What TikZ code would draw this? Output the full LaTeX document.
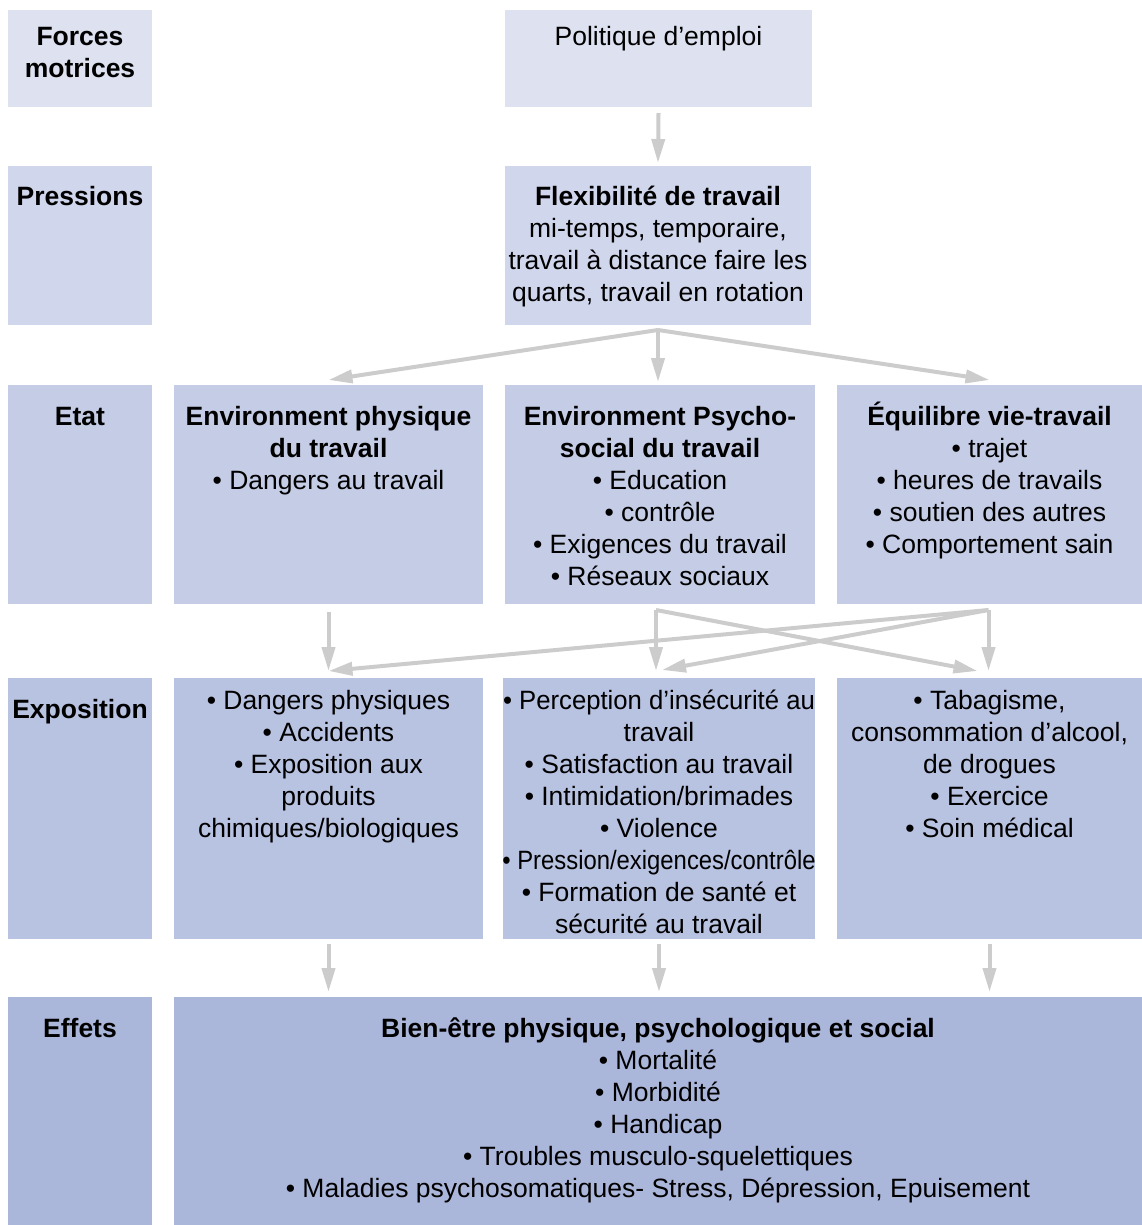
\documentclass[tikz,border=0pt]{standalone}
\usepackage{fontspec}
\setmainfont{Liberation Sans}
\usepackage{graphicx}
\usetikzlibrary{arrows.meta, positioning}

\definecolor{rowone}{RGB}{221,225,240}
\definecolor{rowtwo}{RGB}{208,214,236}
\definecolor{rowthree}{RGB}{196,204,230}
\definecolor{rowfour}{RGB}{184,194,225}
\definecolor{rowfive}{RGB}{170,182,218}
\definecolor{arrowgray}{RGB}{204,204,204}

% fixed height of the first text line in a block
\newcommand{\topstrut}{\rule{0pt}{30pt}}

\begin{document}
\begin{tikzpicture}[
    x=1pt, y=1pt,
    node distance=22pt,
    rowlab/.style={rectangle, minimum width=144pt, inner sep=0pt, outer sep=0pt},
    block/.style={rectangle, inner sep=0pt, outer sep=0pt},
    blocktext/.style={align=center, inner sep=0pt, font=\fontsize{26.5}{32}\selectfont},
    labtext/.style={blocktext, font=\fontsize{26.5}{32}\selectfont\bfseries},
    arrow/.style={-{Triangle[length=24pt, width=13pt]}, line width=4pt, draw=arrowgray}
]
\useasboundingbox (0,0) rectangle (1142,-1225);

% Row 1: Driving forces
\node[rowlab, fill=rowone, minimum height=97pt, anchor=north west] (lforces) at (8,-10) {};
\node[block, fill=rowone, minimum width=307pt, minimum height=97pt, right=353pt of lforces] (politique) {};

% Row 2: Pressures
\node[rowlab, fill=rowtwo, minimum height=159pt, below=59pt of lforces] (lpress) {};
\node[block, fill=rowtwo, minimum width=306pt, minimum height=159pt, right=353pt of lpress] (flex) {};

% Row 3: State
\node[rowlab, fill=rowthree, minimum height=219pt, below=60pt of lpress] (letat) {};
\node[block, fill=rowthree, minimum width=309pt, minimum height=219pt, right=of letat] (envphys) {};
\node[block, fill=rowthree, minimum width=310pt, minimum height=219pt, right=of envphys] (envpsy) {};
\node[block, fill=rowthree, minimum width=305pt, minimum height=219pt, right=of envpsy] (equil) {};

% Row 4: Exposure
\node[rowlab, fill=rowfour, minimum height=261pt, below=74pt of letat] (lexpo) {};
\node[block, fill=rowfour, minimum width=309pt, minimum height=261pt, right=of lexpo] (dphys) {};
\node[block, fill=rowfour, minimum width=312pt, minimum height=261pt, right=20pt of dphys] (expsy) {};
\node[block, fill=rowfour, minimum width=305pt, minimum height=261pt, right=of expsy] (exmode) {};

% Row 5: Effects
\node[rowlab, fill=rowfive, minimum height=228pt, below=58pt of lexpo] (leff) {};
\node[block, fill=rowfive, minimum width=968pt, minimum height=228pt, right=of leff] (bienetre) {};

% Row labels
\node[labtext, below=5pt of lforces.north] (lforcestxt) {\topstrut Forces\\motrices};
\node[labtext, below=9pt of lpress.north] (lpresstxt) {\topstrut Pressions};
\node[labtext, below=10pt of letat.north] (letattxt) {\topstrut Etat};
\node[labtext, below=10pt of lexpo.north] (lexpotxt) {\topstrut Exposition};
\node[labtext, below=10pt of leff.north] (lefftxt) {\topstrut Effets};

% Box texts
\node[blocktext, below=5pt of politique.north] (politiquetxt) {\topstrut Politique d’emploi};
\node[blocktext, below=9pt of flex.north] (flextxt) {\topstrut\textbf{Flexibilité de travail}\\mi-temps, temporaire,\\travail à distance faire les\\quarts, travail en rotation};
\node[blocktext, below=10pt of envphys.north] (envphystxt) {\topstrut\textbf{Environment physique}\\\textbf{du travail}\\• Dangers au travail};
\node[blocktext, below=10pt of envpsy.north] (envpsytxt) {\topstrut\textbf{Environment Psycho-}\\\textbf{social du travail}\\• Education\\• contrôle\\• Exigences du travail\\• Réseaux sociaux};
\node[blocktext, below=10pt of equil.north] (equiltxt) {\topstrut\textbf{Équilibre vie-travail}\\• trajet\\• heures de travails\\• soutien des autres\\• Comportement sain};
\node[blocktext, below=1pt of dphys.north] (dphystxt) {\topstrut• Dangers physiques\\• Accidents\\• Exposition aux\\produits\\chimiques/biologiques};
\node[blocktext, below=1pt of expsy.north] (expsytxt) {\topstrut\scalebox{0.97}[1]{• Perception d’insécurité au}\\travail\\• Satisfaction au travail\\• Intimidation/brimades\\• Violence\\\scalebox{0.9}[1]{• Pression/exigences/contrôle}\\• Formation de santé et\\sécurité au travail};
\node[blocktext, below=1pt of exmode.north] (exmodetxt) {\topstrut• Tabagisme,\\consommation d’alcool,\\de drogues\\• Exercice\\• Soin médical};
\node[blocktext, below=10pt of bienetre.north] (bienetretxt) {\topstrut\textbf{Bien-être physique, psychologique et social}\\• Mortalité\\• Morbidité\\• Handicap\\• Troubles musculo-squelettiques\\• Maladies psychosomatiques- Stress, Dépression, Epuisement};

% Arrows - policy to pressures
\draw[arrow] ([yshift=-6pt]politique.south) -- ([yshift=3pt]flex.north);

% Arrows - pressures to state
\draw[arrow] ([yshift=-5pt]flex.south) -- ([yshift=5pt]envphys.north);
\draw[arrow] ([yshift=-5pt]flex.south) -- ([yshift=3pt]flex.south |- envpsy.north);
\draw[arrow] ([yshift=-5pt]flex.south) -- ([yshift=5pt]equil.north);

% Arrows - state to exposure
\draw[arrow] ([yshift=-8pt]envphys.south) -- ([yshift=7pt]dphys.north);
\draw[arrow] ([xshift=-4pt, yshift=-6pt]envpsy.south) -- ([xshift=-3pt, yshift=7pt]expsy.north);
\draw[arrow] ([xshift=-4pt, yshift=-6pt]envpsy.south) -- ([xshift=-12pt, yshift=7pt]exmode.north);
\draw[arrow] ([xshift=-1pt, yshift=-6pt]equil.south) -- ([xshift=-1pt, yshift=7pt]exmode.north);
\draw[arrow] ([xshift=-1pt, yshift=-6pt]equil.south) -- ([xshift=3pt, yshift=8pt]expsy.north);
\draw[arrow] ([xshift=-1pt, yshift=-6pt]equil.south) -- ([yshift=7pt]dphys.north);

% Arrows - exposure to effects
\draw[arrow] ([yshift=-5pt]dphys.south) -- ([yshift=5pt]dphys.south |- bienetre.north);
\draw[arrow] ([yshift=-5pt]expsy.south) -- ([yshift=5pt]expsy.south |- bienetre.north);
\draw[arrow] ([yshift=-5pt]exmode.south) -- ([yshift=5pt]exmode.south |- bienetre.north);

\end{tikzpicture}
\end{document}
